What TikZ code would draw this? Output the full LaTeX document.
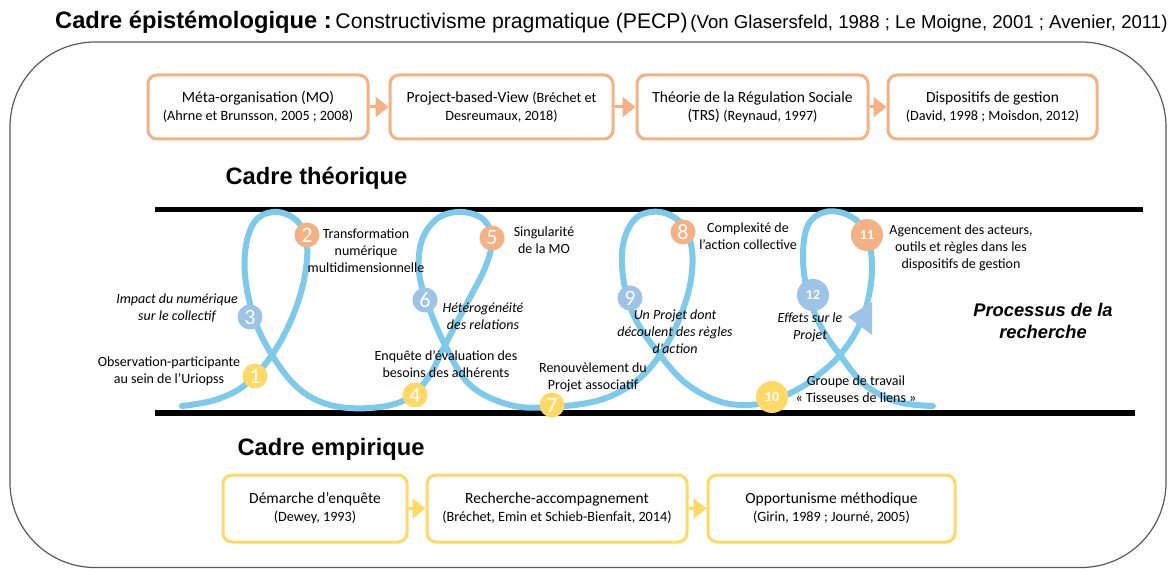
\documentclass[tikz,border=0pt]{standalone}
\usepackage{fontspec}
\setmainfont{Carlito}
\newfontfamily\arialfont{Liberation Sans}
\usetikzlibrary{arrows.meta}
\definecolor{theoorange}{RGB}{244,177,131}
\definecolor{empyellow}{RGB}{255,217,102}
\definecolor{loopblue}{RGB}{125,202,235}
\definecolor{numblue}{RGB}{157,195,230}
\tikzset{
	theobox/.style={draw=theoorange, line width=3pt, rounded corners=9pt, fill=white,
			align=center, minimum height=64pt, inner sep=2pt, font=\fontsize{15.5}{18}\selectfont},
	empbox/.style={theobox, draw=empyellow, minimum height=67pt},
	flow/.style={line width=3pt, -{Triangle[length=13pt,width=20pt]}},
	numdot/.style={circle, inner sep=0pt, minimum size=25pt, text=white, font=\fontsize{22}{22}\selectfont},
	bignum/.style={numdot, minimum size=32pt, font=\fontsize{14}{14}\selectfont\bfseries},
	lbl/.style={align=center, font=\fontsize{14}{17}\selectfont},
	ilbl/.style={align=center, font=\fontsize{14}{17}\selectfont\itshape},
	heading/.style={anchor=base west, font=\arialfont\fontsize{23.7}{28}\selectfont\bfseries},
}
\newcommand{\refsmall}{\fontsize{14.2}{18}\selectfont}
\begin{document}
\begin{tikzpicture}[x=1pt, y=-1pt]
		\useasboundingbox (0,0) rectangle (1168,569);
		% cadre epistemologique
		\draw[line width=1.2pt, black!65, rounded corners=85pt] (10,42) rectangle (1166,567.5);
		\node[anchor=base west, inner sep=0pt] (titre) at (55,29)
			{\arialfont{\fontsize{23.7}{28}\selectfont\bfseries Cadre épistémologique :}
				{\fontsize{21.2}{28}\selectfont Constructivisme pragmatique (PECP)}
				{\fontsize{18.6}{28}\selectfont(Von Glasersfeld, 1988 ; Le Moigne, 2001 ; Avenier, 2011)}};

		% cadre theorique
		\node[theobox, minimum width=220pt] (mo) at (258,107) {Méta-organisation (MO)\\{\refsmall(Ahrne et Brunsson, 2005 ; 2008)}};
		\node[theobox, minimum width=223pt] (pbv) at (501.5,107) {Project-based-View {\refsmall(Bréchet et}\\{\refsmall Desreumaux, 2018)}};
		\node[theobox, minimum width=231pt] (trs) at (752.5,107) {Théorie de la Régulation Sociale\\(TRS) {\refsmall(Reynaud, 1997)}};
		\node[theobox, minimum width=209pt] (dg) at (992.5,107) {Dispositifs de gestion\\{\refsmall(David, 1998 ; Moisdon, 2012)}};
		\draw[flow, theoorange] (mo) -- (pbv);
		\draw[flow, theoorange] (pbv) -- (trs);
		\draw[flow, theoorange] (trs) -- (dg);
		\node[heading] (theo) at (222,185) {Cadre théorique};

		% processus
		\draw[line width=5pt] (155,210) -- (1143,210);
		\draw[line width=5pt] (155,413) -- (1135,413);
		\draw[loopblue, line width=6pt, line cap=round] plot[smooth, tension=0.6] coordinates {
				(182,406) (215,400) (245,385) (272,355) (292,318) (304,280) (307,245) (298,222) (278,212)
				(258,218) (247,240) (245,275) (254,318) (272,355) (298,388) (330,405) (370,408) (405,400)
				(428,378) (445,345) (466,305) (485,268) (492,240) (484,220) (462,212) (438,218) (422,240)
				(419,272) (428,305) (445,345) (470,385) (510,405) (552,407) (600,400) (635,382) (660,355)
				(678,322) (690,285) (692,250) (682,224) (660,212) (636,218) (623,245) (624,283) (636,320)
				(660,355) (688,385) (725,403) (765,403) (800,388) (822,372) (840,355) (857,330) (868,300)
				(872,265) (866,232) (848,215) (825,212) (808,225) (803,255) (807,290) (820,325) (840,355)
				(865,385) (898,402) (933,406)};
		\fill[numblue] (848,317) -- (872,302) -- (872,335) -- cycle;

		\node[numdot, fill=empyellow] (n1) at (255,376) {1};
		\node[numdot, fill=theoorange] (n2) at (307,235) {2};
		\node[numdot, fill=numblue] (n3) at (250,317) {3};
		\node[numdot, fill=empyellow] (n4) at (415,395) {4};
		\node[numdot, fill=theoorange] (n5) at (492,238) {5};
		\node[numdot, fill=numblue] (n6) at (425,300) {6};
		\node[numdot, fill=empyellow] (n7) at (552,405) {7};
		\node[numdot, fill=theoorange] (n8) at (683,232) {8};
		\node[numdot, fill=numblue] (n9) at (630,298) {9};
		\node[bignum, fill=empyellow] (n10) at (772,397) {10};
		\node[bignum, fill=theoorange] (n11) at (867,235) {11};
		\node[bignum, fill=numblue] (n12) at (813,295) {12};

		\node[lbl] (obs) at (169,371) {Observation-participante\\au sein de l’Uriopss};
		\node[ilbl] (impact) at (177,308) {Impact du numérique\\sur le collectif};
		\node[lbl] (transfo) at (366,251) {Transformation\\numérique\\multidimensionnelle};
		\node[lbl] (enquete) at (446,364) {Enquête d’évaluation des\\besoins des adhérents};
		\node[lbl] (singul) at (544,240) {Singularité\\de la MO};
		\node[ilbl] (hetero) at (483,316) {Hétérogénéité\\des relations};
		\node[lbl] (renouv) at (593,377) {Renouvèlement du\\Projet associatif};
		\node[lbl] (complex) at (748,236) {Complexité de\\l’action collective};
		\node[ilbl] (projet) at (675,332) {Un Projet dont\\découlent des règles\\d’action};
		\node[lbl] (agenc) at (961,248) {Agencement des acteurs,\\outils et règles dans les\\dispositifs de gestion};
		\node[ilbl] (effets) at (810,327) {Effets sur le\\Projet};
		\node[lbl] (groupe) at (856,389) {Groupe de travail\\« Tisseuses de liens »};
		\node[align=center, font=\arialfont\fontsize{18.3}{22}\selectfont\bfseries\itshape] (proc) at (1043,321) {Processus de la\\recherche};

		% cadre empirique
		\node[heading] (emp) at (234,455) {Cadre empirique};
		\node[empbox, minimum width=184pt] (dewey) at (315,508.5) {Démarche d’enquête\\{\refsmall(Dewey, 1993)}};
		\node[empbox, minimum width=260pt] (accomp) at (557,508.5) {Recherche-accompagnement\\{\refsmall(Bréchet, Emin et Schieb-Bienfait, 2014)}};
		\node[empbox, minimum width=247pt] (opport) at (831.5,508.5) {Opportunisme méthodique\\{\refsmall(Girin, 1989 ; Journé, 2005)}};
		\draw[flow, empyellow] (dewey) -- (accomp);
		\draw[flow, empyellow] (accomp) -- (opport);
	\end{tikzpicture}
\end{document}
